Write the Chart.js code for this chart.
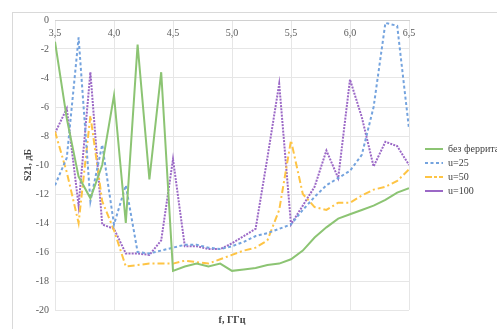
<!DOCTYPE html>
<html>
<head>
<meta charset="utf-8">
<script src="https://cdn.jsdelivr.net/npm/chart.js@4/dist/chart.umd.min.js"></script>
<style>
html, body { margin: 0; padding: 0; background: #fff; }
</style>
</head>
<body>
<canvas id="chart" width="497" height="329"></canvas>
<script>
const freqs = [3.5, 3.6, 3.7, 3.8, 3.9, 4.0, 4.1, 4.2, 4.3, 4.4, 4.5, 4.6, 4.7, 4.8, 4.9, 5.0,
    5.1, 5.2, 5.3, 5.4, 5.5, 5.6, 5.7, 5.8, 5.9, 6.0, 6.1, 6.2, 6.3, 6.4, 6.5];

const noFerrite = [-1.5, -6.8, -10.8, -12.3, -10.0, -5.2, -14.0, -1.7, -11.0, -3.6, -17.3, -17.0, -16.8, -17.0, -16.8, -17.3,
    -17.2, -17.1, -16.9, -16.8, -16.5, -15.9, -15.0, -14.3, -13.7, -13.4, -13.1, -12.8, -12.4, -11.9, -11.6];
const u25 = [-11.4, -9.5, -1.2, -12.5, -8.6, -14.1, -11.4, -16.0, -16.1, -15.9, -15.7, -15.5, -15.5, -15.7, -15.8, -15.6,
    -15.3, -14.9, -14.7, -14.4, -14.1, -13.1, -12.2, -11.4, -10.9, -10.4, -9.3, -6.0, -0.2, -0.4, -7.5];
const u50 = [-7.7, -10.5, -14.0, -6.6, -12.5, -14.5, -17.0, -16.9, -16.8, -16.8, -16.8, -16.6, -16.7, -16.8, -16.5, -16.2,
    -15.9, -15.7, -15.2, -13.1, -8.3, -12.0, -12.9, -13.1, -12.6, -12.6, -12.1, -11.7, -11.5, -11.1, -10.3];
const u100 = [-7.8, -6.1, -12.8, -3.6, -14.1, -14.4, -16.1, -16.1, -16.2, -15.2, -9.6, -15.6, -15.6, -15.8, -15.8, -15.4,
    -14.9, -14.4, -9.5, -4.4, -14.1, -12.8, -11.5, -9.0, -10.9, -4.1, -6.7, -10.1, -8.4, -8.7, -10.0];

const seriesNames = ['без феррита', 'u=25', 'u=50', 'u=100'];
const xTicks = [3.5, 4.0, 4.5, 5.0, 5.5, 6.0, 6.5];

const serif = 'Liberation Serif';
const toPoints = vals => vals.map((v, i) => ({ x: freqs[i], y: v }));

// light frame of the chart area, only the left and top edges fall inside the picture
const frame = {
    id: 'frame',
    beforeDraw(chart) {
        const ctx = chart.ctx;
        ctx.save();
        ctx.fillStyle = '#fff';
        ctx.fillRect(0, 0, chart.width, chart.height);
        ctx.strokeStyle = '#d9d9d9';
        ctx.lineWidth = 1;
        ctx.strokeRect(12.5, 12.5, 540, 360);
        ctx.restore();
    }
};

function lineSet(label, vals, color, dash) {
    return {
        label: label,
        data: toPoints(vals),
        borderColor: color,
        backgroundColor: color,
        borderWidth: 2,
        borderDash: dash,
        pointRadius: 0,
        tension: 0,
        fill: false
    };
}

new Chart(document.getElementById('chart'), {
    type: 'line',
    data: {
        datasets: [
            lineSet(seriesNames[0], noFerrite, '#8cc473', []),
            lineSet(seriesNames[1], u25, '#74a3de', [3, 2.5]),
            lineSet(seriesNames[2], u50, '#fec444', [7, 3, 2, 3]),
            lineSet(seriesNames[3], u100, '#9b68c6', [2, 1.2])
        ]
    },
    options: {
        responsive: false,
        animation: false,
        layout: { padding: { left: 10, top: 20, right: 0, bottom: 0 } },
        scales: {
            x: {
                type: 'linear',
                min: 3.5,
                max: 6.5,
                position: { y: 0 },
                grid: { color: '#e6e6e6', drawTicks: false },
                border: { color: '#d0d0d0' },
                afterBuildTicks: s => { s.ticks = xTicks.map(v => ({ value: v })); },
                ticks: {
                    padding: 7,
                    color: '#595959',
                    maxRotation: 0,
                    autoSkip: false,
                    font: { family: serif, size: 10 },
                    callback: v => v.toFixed(1).replace('.', ',')
                }
            },
            y: {
                min: -20,
                max: 0,
                position: 'left',
                afterFit: s => { s.width = 45; },
                grid: { color: '#e6e6e6', drawTicks: false },
                border: { display: false },
                ticks: {
                    stepSize: 2,
                    padding: 6,
                    color: '#595959',
                    font: { family: serif, size: 10 }
                },
                title: {
                    display: true,
                    text: 'S21, дБ',
                    color: '#404040',
                    font: { family: serif, size: 10, weight: 'bold' },
                    padding: { top: 12, bottom: 0 }
                }
            },
            yRight: {
                position: 'right',
                afterFit: s => { s.width = 12; },
                grid: { display: false },
                ticks: { display: false },
                border: { display: false }
            }
        },
        plugins: {
            tooltip: { enabled: false },
            title: {
                display: true,
                position: 'bottom',
                fullSize: false,
                text: 'f, ГГц',
                color: '#404040',
                font: { family: serif, size: 10, weight: 'bold' },
                padding: { top: 4, bottom: 3 }
            },
            legend: {
                position: 'right',
                align: 'start',
                maxWidth: 76,
                title: { display: true, text: '', font: { size: 10 }, padding: { top: 108, bottom: 0 } },
                labels: {
                    boxWidth: 18,
                    boxHeight: 0,
                    padding: 4,
                    color: '#404040',
                    font: { family: serif, size: 10 }
                }
            }
        }
    },
    plugins: [frame]
});
</script>
</body>
</html>
